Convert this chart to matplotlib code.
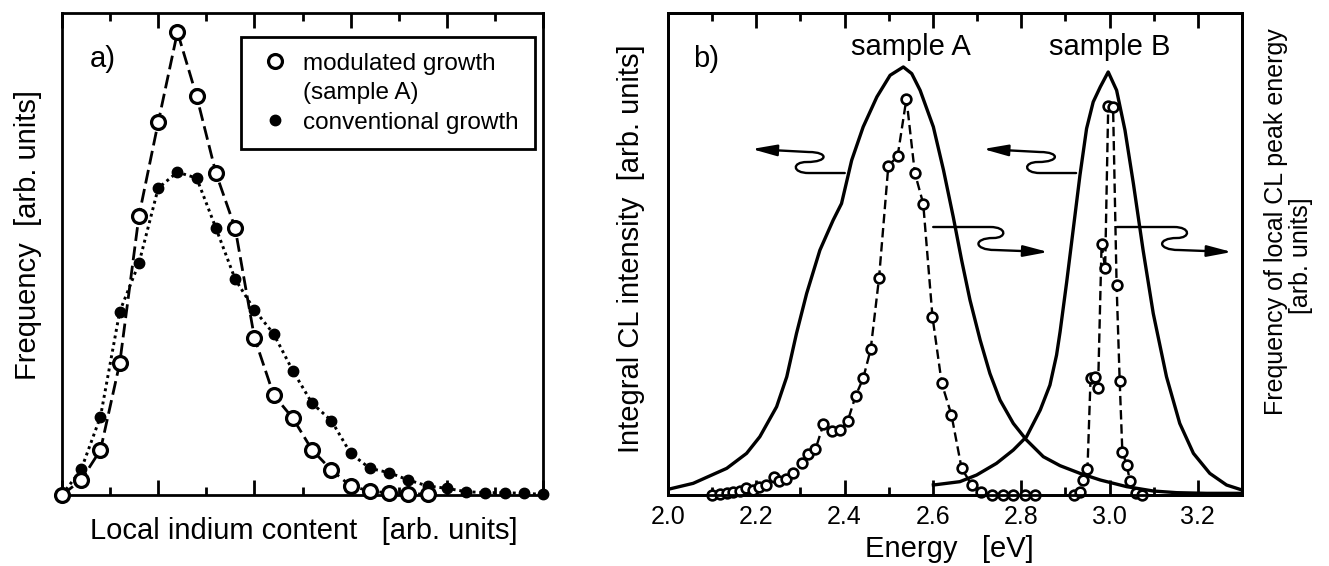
import matplotlib
matplotlib.use('Agg')
import matplotlib.pyplot as plt
from matplotlib.lines import Line2D
from matplotlib.path import Path
from matplotlib.patches import FancyArrowPatch
from matplotlib.ticker import MultipleLocator, NullLocator, FormatStrFormatter

plt.rcParams['font.family'] = ['Liberation Sans', 'DejaVu Sans']

# ---- panel a: histogram of local indium content (arb. units) ----
idx_modulated = list(range(20))
freq_modulated = [0, 45, 135, 395, 837, 1117, 1388, 1195, 965, 800,
                  472, 300, 230, 135, 75, 27, 12, 6, 2, 4]
idx_conventional = list(range(26))
freq_conventional = [0, 77, 235, 550, 695, 920, 968, 950, 800, 647,
                     555, 483, 372, 275, 223, 125, 80, 67, 45, 27,
                     20, 10, 7, 7, 5, 2]

# ---- panel b: integral CL spectra (solid lines) ----
energy_cl_a = [2.000, 2.057, 2.133, 2.178, 2.208, 2.246, 2.269, 2.291, 2.314, 2.344,
               2.374, 2.393, 2.416, 2.442, 2.473, 2.503, 2.533, 2.552, 2.571, 2.601,
               2.624, 2.646, 2.665, 2.684, 2.707, 2.729, 2.752, 2.782, 2.812, 2.850,
               2.888, 2.933, 2.979, 3.039, 3.099, 3.152, 3.220, 3.300]
cl_a = [17, 35, 80, 125, 175, 265, 355, 485, 605, 735,
        825, 875, 1005, 1105, 1195, 1260, 1285, 1265, 1215, 1105,
        975, 835, 705, 585, 465, 365, 285, 215, 165, 115,
        88, 65, 45, 25, 12, 7, 5, 5]

energy_cl_b = [2.601, 2.661, 2.699, 2.744, 2.782, 2.812, 2.843, 2.865, 2.880, 2.888,
               2.903, 2.918, 2.933, 2.948, 2.963, 2.979, 2.997, 3.016, 3.035, 3.054,
               3.076, 3.099, 3.129, 3.159, 3.190, 3.227, 3.265, 3.300]
cl_b = [30, 40, 60, 95, 135, 175, 255, 330, 420, 490,
        640, 800, 960, 1100, 1180, 1225, 1270, 1215, 1095, 935,
        735, 545, 355, 215, 125, 65, 30, 15]

# ---- panel b: frequency of local CL peak energy (circles) ----
energy_pk_a = [2.099, 2.117, 2.133, 2.148, 2.163, 2.177, 2.192, 2.207, 2.222, 2.239,
               2.252, 2.267, 2.284, 2.303, 2.318, 2.334, 2.352, 2.371, 2.389, 2.407,
               2.425, 2.442, 2.459, 2.478, 2.499, 2.520, 2.540, 2.559, 2.578, 2.599,
               2.620, 2.642, 2.665, 2.688, 2.710, 2.733, 2.759, 2.782, 2.808, 2.831]
peak_a = [0, 2, 5, 9, 13, 20, 15, 23, 30, 53,
          43, 47, 65, 97, 123, 137, 213, 192, 195, 222,
          298, 350, 437, 652, 988, 1017, 1190, 967, 875, 535,
          335, 240, 80, 30, 10, 0, 0, 0, 0, 0]

energy_pk_b = [2.920, 2.934, 2.941, 2.950, 2.957, 2.967, 2.974, 2.982, 2.990, 2.997,
               3.008, 3.016, 3.023, 3.029, 3.039, 3.046, 3.060, 3.073]
peak_b = [0, 8, 45, 77, 350, 355, 320, 755, 680, 1167,
          1165, 630, 342, 130, 90, 43, 5, 0]

FIG_W, FIG_H = 1329, 566
AXB_W, AXB_H = 574, 482


def squiggle(ax, x0, y0, sign):
    # S-shaped arrow; sign=-1 points left (top row), sign=+1 points right (lower row)
    if sign < 0:
        pts = [(0, 0), (-36, 0), (-53, 0), (-53, -11), (-38, -11),
               (-16, -11), (-16, -21), (-36, -21), (-93, -24)]
    else:
        pts = [(0, 0), (57, 0), (74, 0), (74, 11), (60, 11),
               (40, 11), (40, 23), (62, 23), (115, 25)]
    verts = [(x0 + dx / AXB_W, y0 - dy / AXB_H) for dx, dy in pts]
    codes = [Path.MOVETO, Path.LINETO,
             Path.CURVE4, Path.CURVE4, Path.CURVE4,
             Path.CURVE4, Path.CURVE4, Path.CURVE4,
             Path.LINETO]
    arr = FancyArrowPatch(path=Path(verts, codes), transform=ax.transAxes,
                          arrowstyle='-|>,head_length=0.75,head_width=0.17',
                          mutation_scale=20, lw=1.7, color='k')
    ax.add_patch(arr)


fig = plt.figure(figsize=(FIG_W / 100, FIG_H / 100), dpi=100)

# ================= panel a =================
axa = fig.add_axes([62 / FIG_W, 71 / FIG_H, 481 / FIG_W, 482 / FIG_H])
axa.plot(idx_conventional, freq_conventional, color='k', lw=2.1, ls=(0, (1, 1.3)),
         marker='o', ms=7.5, mfc='k', mec='k', clip_on=False, zorder=3)
axa.plot(idx_modulated, freq_modulated, color='k', lw=2.0, ls=(0, (5, 2)),
         marker='o', ms=10, mfc='white', mec='k', mew=2.3, clip_on=False, zorder=4)
axa.set_xlim(0, 25)
axa.set_ylim(0, 1445)
axa.xaxis.set_major_locator(MultipleLocator(5))
axa.xaxis.set_minor_locator(MultipleLocator(2.5))
axa.yaxis.set_major_locator(NullLocator())
axa.tick_params(axis='x', which='both', direction='in', top=True, bottom=True,
                labelbottom=False, width=2)
axa.tick_params(axis='x', which='major', length=11)
axa.tick_params(axis='x', which='minor', length=6)
for sp in axa.spines.values():
    sp.set_linewidth(2)

handles = [Line2D([], [], ls='none', marker='o', ms=10, mfc='white', mec='k', mew=2.3),
           Line2D([], [], ls='none'),
           Line2D([], [], ls='none', marker='o', ms=7.5, mfc='k', mec='k')]
leg = axa.legend(handles, ['modulated growth', '(sample A)', 'conventional growth'],
                 loc='upper right', bbox_to_anchor=(0.983, 0.950), borderaxespad=0,
                 fontsize=17.5, frameon=True, fancybox=False, edgecolor='k',
                 borderpad=0.65, handlelength=1.5, handletextpad=0.4, labelspacing=0.3)
leg.get_frame().set_linewidth(2)
leg.get_frame().set_alpha(1)

axa.text(0.058, 0.888, 'a)', transform=axa.transAxes, fontsize=21, va='baseline')
axa.set_xlabel('Local indium content   [arb. units]', fontsize=21)
axa.xaxis.set_label_coords(0.503, -0.045)
axa.set_ylabel('Frequency  [arb. units]', fontsize=21)
axa.yaxis.set_label_coords(-0.042, 0.539)

# ================= panel b =================
axb = fig.add_axes([668 / FIG_W, 71 / FIG_H, AXB_W / FIG_W, AXB_H / FIG_H])
axb.plot(energy_cl_a, cl_a, color='k', lw=2.4)
axb.plot(energy_cl_b, cl_b, color='k', lw=2.4)
axb.set_xlim(2.0, 3.3)
axb.set_ylim(0, 1447)
axb.xaxis.set_major_locator(MultipleLocator(0.2))
axb.xaxis.set_minor_locator(MultipleLocator(0.1))
axb.xaxis.set_major_formatter(FormatStrFormatter('%.1f'))
axb.yaxis.set_major_locator(NullLocator())
axb.tick_params(axis='x', which='both', direction='in', top=True, bottom=True,
                width=2, labelsize=18, pad=7)
axb.tick_params(axis='x', which='major', length=11)
axb.tick_params(axis='x', which='minor', length=6)

axb2 = axb.twinx()
axb2.plot(energy_pk_a, peak_a, color='k', lw=1.7, ls=(0, (4, 2)),
          marker='o', ms=7, mfc='white', mec='k', mew=1.9, clip_on=False)
axb2.plot(energy_pk_b, peak_b, color='k', lw=1.7, ls=(0, (4, 2)),
          marker='o', ms=7, mfc='white', mec='k', mew=1.9, clip_on=False)
axb2.set_ylim(0, 1447)
axb2.yaxis.set_major_locator(NullLocator())
for a in (axb, axb2):
    for sp in a.spines.values():
        sp.set_linewidth(2)

squiggle(axb, 0.308, 0.668, -1)
squiggle(axb, 0.711, 0.668, -1)
squiggle(axb, 0.462, 0.556, 1)
squiggle(axb, 0.782, 0.556, 1)

axb.text(0.044, 0.888, 'b)', transform=axb.transAxes, fontsize=21, va='baseline')
axb.text(0.423, 0.913, 'sample A', transform=axb.transAxes, fontsize=21,
         ha='center', va='baseline')
axb.text(0.770, 0.913, 'sample B', transform=axb.transAxes, fontsize=21,
         ha='center', va='baseline')

axb.set_xlabel('Energy   [eV]', fontsize=21)
axb.xaxis.set_label_coords(0.49, -0.082)
axb.set_ylabel('Integral CL intensity  [arb. units]', fontsize=21)
axb.yaxis.set_label_coords(-0.040, 0.51)

axb2.text(1.059, 0.568, 'Frequency of local CL peak energy', transform=axb2.transAxes,
          rotation=90, ha='center', va='center', fontsize=18)
axb2.text(1.103, 0.496, '[arb. units]', transform=axb2.transAxes,
          rotation=90, ha='center', va='center', fontsize=18)

fig.savefig('out.png', dpi=100)
